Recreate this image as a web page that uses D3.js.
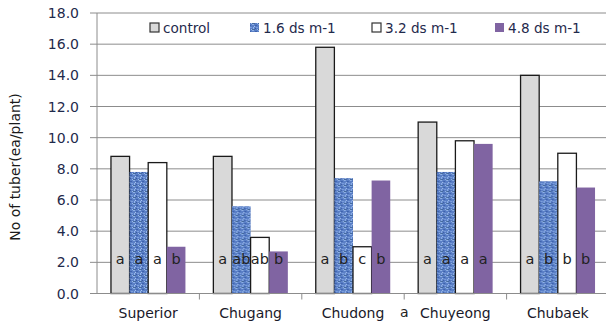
<!DOCTYPE html>
<html><head><meta charset="utf-8">
<script src="https://cdn.jsdelivr.net/npm/d3@7"></script>
<style>body{margin:0;background:#fff}svg{display:block}text{font-family:"DejaVu Sans",Verdana,sans-serif}</style>
</head><body><svg id="c" width="606" height="324"></svg>
<script>
const categories = ["Superior","Chugang","Chudong","Chuyeong","Chubaek"];
const seriesNames = ["control","1.6 ds m-1","3.2 ds m-1","4.8 ds m-1"];
const control = [8.8, 8.8, 15.8, 11.0, 14.0];
const ds16   = [7.8, 5.6, 7.4, 7.8, 7.2];
const ds32   = [8.4, 3.6, 3.0, 9.8, 9.0];
const ds48   = [3.0, 2.7, 7.25, 9.6, 6.8];
const letters = [["a","a","a","b"],["a","ab","ab","b"],["a","b","c","b"],["a","a","a","a"],["a","b","b","b"]];
const yTicks = [0,2,4,6,8,10,12,14,16,18];
const yTitle = "No of tuber(ea/plant)";

const values = [control, ds16, ds32, ds48];
const svg = d3.select("#c");
const L = 97, R = 609, T = 13, B = 293.5;

const defs = svg.append("defs");
const pat = defs.append("pattern").attr("id","blueTex").attr("patternUnits","userSpaceOnUse")
  .attr("width",6).attr("height",6);
pat.append("rect").attr("width",6).attr("height",6).attr("fill","#5a7fc6");
[[0,0,2,1,"#8fb1e6"],[3,1,2,1,"#3e63ad"],[1,3,1,2,"#94b6ea"],[4,3,2,1,"#7c9fdc"],[0,5,3,1,"#44699f"],[2,2,1,1,"#a9c4ef"],[5,5,1,1,"#9dbbe9"],[3,4,1,1,"#3a5aa0"]]
  .forEach(([x,y,w,h,c])=>pat.append("rect").attr("x",x).attr("y",y).attr("width",w).attr("height",h).attr("fill",c));

const fills = ["#d9d9d9","url(#blueTex)","#ffffff","#8064a2"];
const strokes = ["#1a1a1a","none","#1a1a1a","none"];

const y = d3.scaleLinear().domain([0,18]).range([B,T]);
const x0 = d3.scaleBand().domain(categories).range([L,R]);
const x1 = d3.scaleBand().domain(seriesNames).range([0,x0.bandwidth()]).paddingOuter(0.75);

// gridlines
svg.append("g").selectAll("line").data(yTicks).join("line")
  .attr("x1",L-7).attr("x2",R).attr("y1",d=>y(d)).attr("y2",d=>y(d))
  .attr("stroke","#8c8c8c").attr("stroke-width",1);

// y axis line
svg.append("line").attr("x1",L).attr("x2",L).attr("y1",T).attr("y2",B).attr("stroke","#8c8c8c");

// y tick labels
svg.append("g").selectAll("text").data(yTicks).join("text")
  .attr("x",79).attr("y",d=>y(d)).attr("dy","0.36em").attr("text-anchor","end")
  .attr("font-size",14).attr("fill","#1f2a4c").text(d=>d.toFixed(1));

// bars
categories.forEach((cat,ci)=>{
  const g = svg.append("g").attr("transform",`translate(${x0(cat)},0)`);
  seriesNames.forEach((s,si)=>{
    const v = values[si][ci];
    g.append("rect").attr("x",x1(s)).attr("width",x1.bandwidth())
      .attr("y",y(v)).attr("height",y(0)-y(v))
      .attr("fill",fills[si]).attr("stroke",strokes[si]).attr("stroke-width",1.3);
  });
  seriesNames.forEach((s,si)=>{
    g.append("text").attr("x",x1(s)+x1.bandwidth()/2).attr("y",y(2.2)).attr("dy","0.36em")
      .attr("text-anchor","middle").attr("font-size",14.5).attr("fill","#222")
      .text(letters[ci][si]);
  });
});

// x axis
svg.append("line").attr("x1",L).attr("x2",R).attr("y1",B).attr("y2",B).attr("stroke","#8c8c8c");
svg.append("g").selectAll("line").data(categories.slice(1)).join("line")
  .attr("x1",d=>x0(d)).attr("x2",d=>x0(d)).attr("y1",B).attr("y2",B+6).attr("stroke","#8c8c8c");
svg.append("g").selectAll("text").data(categories).join("text")
  .attr("x",d=>x0(d)+x0.bandwidth()/2).attr("y",313).attr("dy","0.36em")
  .attr("text-anchor","middle").attr("font-size",14).attr("fill","#1a1a2a").text(d=>d);
// stray letter below axis
svg.append("text").attr("x",x0("Chuyeong")).attr("y",312).attr("dy","0.36em")
  .attr("text-anchor","middle").attr("font-size",14).attr("fill","#222").text("a");

// y title
svg.append("text").attr("transform",`translate(20,167) rotate(-90)`).attr("text-anchor","middle")
  .attr("font-size",14).attr("fill","#1a1a1a").text(yTitle);

// legend
const legX = [150, 250, 372, 495];
const lg = svg.append("g");
seriesNames.forEach((s,i)=>{
  lg.append("rect").attr("x",legX[i]).attr("y",23).attr("width",9).attr("height",9)
    .attr("fill",fills[i]).attr("stroke",i===1||i===3?"none":"#333").attr("stroke-width",1.2);
  lg.append("text").attr("x",legX[i]+13).attr("y",28).attr("dy","0.36em")
    .attr("font-size",13.6).attr("fill","#1f2a4c").text(s);
});
</script></body></html>
